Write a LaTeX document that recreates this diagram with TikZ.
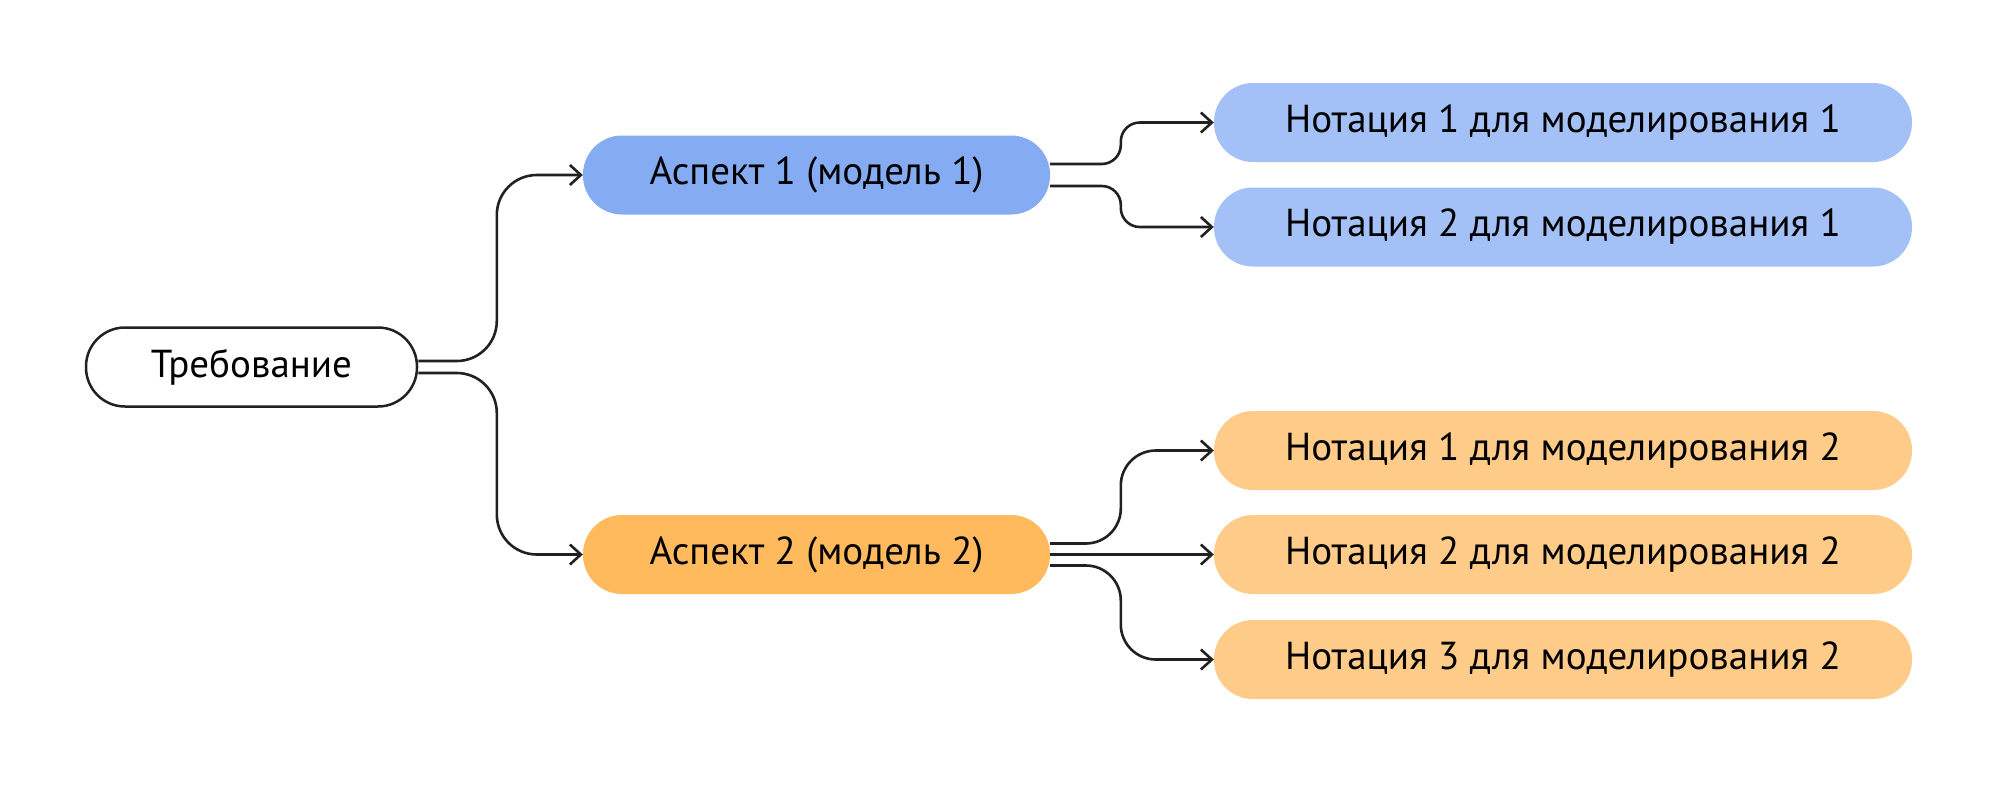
\documentclass[tikz,border=0pt]{standalone}
\usepackage{fontspec}
\setmainfont{PT Sans}
\usetikzlibrary{arrows.meta}
\definecolor{linecolor}{rgb}{0.13, 0.13, 0.13}
\definecolor{aspectblue}{HTML}{85ACF2}
\definecolor{notationblue}{HTML}{A3C1F6}
\definecolor{aspectorange}{HTML}{FFBA5E}
\definecolor{notationorange}{HTML}{FFCB88}
\tikzset{
  pill/.style={rounded corners=39pt, minimum height=79pt, inner sep=0pt,
    font=\fontsize{39}{45}\selectfont, text=black},
  rootbox/.style={pill, draw=linecolor, line width=2.5pt, fill=white, minimum width=331pt},
  aspectbox/.style={pill, minimum width=467pt},
  notationbox/.style={pill, minimum width=698pt},
  link/.style={draw=linecolor, line width=2.6pt,
    -{Straight Barb[length=11pt, width=20pt, line width=2.6pt]}}
}
\begin{document}
\begin{tikzpicture}[x=1pt, y=-1pt]
\useasboundingbox (0,0) rectangle (2000,785);
% nodes
\node[rootbox] (root) at (251.5,367) {Требование};
\node[aspectbox, fill=aspectblue] (asp1) at (816.5,175) {Аспект 1 (модель 1)};
\node[aspectbox, fill=aspectorange] (asp2) at (816.5,554.5) {Аспект 2 (модель 2)};
\node[notationbox, fill=notationblue] (n11) at (1563,122.5) {Нотация 1 для моделирования 1};
\node[notationbox, fill=notationblue] (n21) at (1563,227) {Нотация 2 для моделирования 1};
\node[notationbox, fill=notationorange] (n12) at (1563,450.5) {Нотация 1 для моделирования 2};
\node[notationbox, fill=notationorange] (n22) at (1563,554.5) {Нотация 2 для моделирования 2};
\node[notationbox, fill=notationorange] (n32) at (1563,659.5) {Нотация 3 для моделирования 2};
% links from the requirement
\draw[link, rounded corners=40pt] ([yshift=6pt]root.east) -| ([xshift=-86pt]asp1.west) -- (asp1.west);
\draw[link, rounded corners=40pt] ([yshift=-6pt]root.east) -| ([xshift=-86pt]asp2.west) -- (asp2.west);
% links from aspect 1
\draw[link, rounded corners=19pt] ([yshift=11pt]asp1.east) -| ([xshift=-93pt]n11.west) -- (n11.west);
\draw[link, rounded corners=19pt] ([yshift=-11pt]asp1.east) -| ([xshift=-93pt]n21.west) -- (n21.west);
% links from aspect 2
\draw[link, rounded corners=35pt] ([yshift=11pt]asp2.east) -| ([xshift=-93pt]n12.west) -- (n12.west);
\draw[link] (asp2.east) -- (n22.west);
\draw[link, rounded corners=35pt] ([yshift=-11pt]asp2.east) -| ([xshift=-93pt]n32.west) -- (n32.west);
\end{tikzpicture}
\end{document}
